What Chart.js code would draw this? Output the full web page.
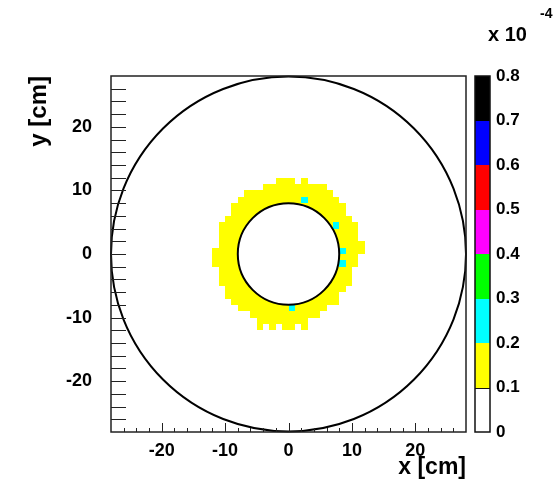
<!DOCTYPE html>
<html>
<head>
<meta charset="utf-8">
<script src="https://cdn.jsdelivr.net/npm/chart.js@4/dist/chart.umd.min.js"></script>
<style>
  html, body { margin: 0; padding: 0; background: #fff; }
</style>
</head>
<body>
<canvas id="occupancy" width="556" height="493"></canvas>
<script>
// hit density per 1x1 cm cell (units of 1e-4), stored as runs of filled cells per row
const segRow  = [11, 11, 10,  9,  8,  7,  6,   5,   4,   3,   2,   1,   0,  -1,  -2,  -3,  -4,  -5,  -6,  -7, -8, -9, -10, -11, -12, -12, -12, -12];
const segFrom = [-2,  2, -4, -7, -8, -9, -9, -10, -11, -11, -11, -11, -12, -12, -12, -11, -11, -11, -10, -10, -9, -8,  -6,  -5,  -5,  -3,  -1,   2];
const segTo   = [ 1,  3,  6,  7,  8,  9,  9,  10,  11,  11,  11,  12,  12,  11,  11,  10,  10,  10,   9,   8,  8,  6,   5,   3,  -4,  -2,   1,   3];
const ringLevel = 0.15;

// single cells with higher density next to the bore
const hotX = [2, 7, 8,  8,  0];
const hotY = [8, 4, 0, -2, -9];
const hotLevel = [0.25, 0.25, 0.25, 0.25, 0.25];

// colour levels of the palette
const levels = [0, 0.1, 0.2, 0.3, 0.4, 0.5, 0.6, 0.7, 0.8];
const levelColors = ['#ffffff', '#ffff00', '#00ffff', '#00ff00', '#ff00ff', '#ff0000', '#0000ff', '#000000'];

const xTicks = [-20, -10, 0, 10, 20];
const yTicks = [-20, -10, 0, 10, 20];
const axisMin = -28, axisMax = 28;
const boreRadius = 8;
const vesselRadius = 28;

const FONT = "'Liberation Sans', Arial, Helvetica, sans-serif";

// expand the runs into cells
const cells = [];
segRow.forEach(function (r, i) {
  for (let c = segFrom[i]; c < segTo[i]; c++) {
    cells.push({ x: c + 0.5, y: r + 0.5, v: ringLevel });
  }
});
hotX.forEach(function (c, i) {
  cells.push({ x: c + 0.5, y: hotY[i] + 0.5, v: hotLevel[i] });
});

function colorFor(v) {
  for (let i = levels.length - 2; i >= 0; i--) {
    if (v >= levels[i]) return levelColors[i];
  }
  return levelColors[0];
}

const hist2d = {
  id: 'hist2d',
  beforeDatasetsDraw: function (chart) {
    const ctx = chart.ctx, a = chart.chartArea;
    const x = chart.scales.x, y = chart.scales.y;
    ctx.save();
    ctx.beginPath();
    ctx.rect(a.left, a.top, a.right - a.left, a.bottom - a.top);
    ctx.clip();
    chart.data.datasets[0].data.forEach(function (c) {
      const x0 = Math.round(x.getPixelForValue(c.x - 0.5));
      const x1 = Math.round(x.getPixelForValue(c.x + 0.5));
      const y0 = Math.round(y.getPixelForValue(c.y + 0.5));
      const y1 = Math.round(y.getPixelForValue(c.y - 0.5));
      ctx.fillStyle = colorFor(c.v);
      ctx.fillRect(x0, y0, x1 - x0, y1 - y0);
    });
    ctx.restore();
  },
  afterDatasetsDraw: function (chart) {
    const ctx = chart.ctx, a = chart.chartArea;
    const x = chart.scales.x, y = chart.scales.y, z = chart.scales.z;
    const cx = x.getPixelForValue(0), cy = y.getPixelForValue(0);
    const pxPerCm = x.getPixelForValue(1) - cx;

    ctx.save();
    // bore (masked) and vessel outline
    ctx.beginPath();
    ctx.arc(cx, cy, boreRadius * pxPerCm, 0, Math.PI * 2);
    ctx.fillStyle = '#ffffff';
    ctx.fill();
    ctx.lineWidth = 2;
    ctx.strokeStyle = '#000';
    ctx.stroke();
    ctx.beginPath();
    ctx.arc(cx, cy, vesselRadius * pxPerCm, 0, Math.PI * 2);
    ctx.stroke();

    // frame
    ctx.lineWidth = 1.5;
    ctx.strokeStyle = '#222';
    ctx.strokeRect(a.left, a.top, a.right - a.left, a.bottom - a.top);

    // ticks every 2 cm
    ctx.lineWidth = 1;
    ctx.beginPath();
    for (let v = -26; v <= 26; v += 2) {
      const px = Math.round(x.getPixelForValue(v)) + 0.5;
      const len = v % 10 === 0 ? 9 : 4;
      ctx.moveTo(px, a.bottom);
      ctx.lineTo(px, a.bottom - len);
      const py = Math.round(y.getPixelForValue(v)) + 0.5;
      ctx.moveTo(a.left, py);
      ctx.lineTo(a.left + 15, py);
    }
    ctx.stroke();

    // colour scale
    const bx = z.left + 9, bw = 15;
    for (let i = 0; i < levelColors.length; i++) {
      const t = Math.round(z.getPixelForValue(levels[i + 1]));
      const b = Math.round(z.getPixelForValue(levels[i]));
      ctx.fillStyle = levelColors[i];
      ctx.fillRect(bx, t, bw, b - t);
    }
    ctx.lineWidth = 1.5;
    ctx.strokeStyle = '#111';
    ctx.strokeRect(bx, z.top, bw, z.bottom - z.top);
    const p1 = Math.round(z.getPixelForValue(levels[1])) + 0.5;
    ctx.lineWidth = 1;
    ctx.beginPath();
    ctx.moveTo(bx, p1);
    ctx.lineTo(bx + bw, p1);
    ctx.stroke();

    // exponent of the colour scale
    ctx.fillStyle = '#000';
    ctx.textBaseline = 'alphabetic';
    ctx.textAlign = 'left';
    ctx.font = 'bold 20px ' + FONT;
    ctx.fillText('x 10', 488, 41);
    ctx.font = 'bold 14px ' + FONT;
    ctx.fillText('-4', 540, 18);
    ctx.restore();
  }
};

const tickFont = { family: FONT, size: 18, weight: 'bold' };

new Chart(document.getElementById('occupancy'), {
  type: 'scatter',
  data: {
    datasets: [{
      label: 'occupancy',
      data: cells,
      pointRadius: 0,
      pointHoverRadius: 0,
      showLine: false
    }]
  },
  plugins: [hist2d],
  options: {
    responsive: false,
    animation: false,
    devicePixelRatio: 1,
    layout: { padding: { top: 76, left: 0, right: 0, bottom: 0 } },
    plugins: {
      legend: { display: false },
      tooltip: { enabled: false }
    },
    scales: {
      x: {
        type: 'linear',
        min: axisMin,
        max: axisMax,
        afterFit: function (s) { s.height = 61; },
        afterBuildTicks: function (s) { s.ticks = xTicks.map(function (v) { return { value: v }; }); },
        grid: { display: false, drawTicks: false },
        border: { display: false },
        ticks: { color: '#000', font: tickFont, padding: 8, autoSkip: false, maxRotation: 0 },
        title: {
          display: true, text: 'x [cm]', align: 'end', color: '#000',
          font: { family: FONT, size: 23, weight: 'bold' },
          padding: { top: 0, bottom: 12 }
        }
      },
      y: {
        type: 'linear',
        min: axisMin,
        max: axisMax,
        afterFit: function (s) { s.width = 111; },
        afterBuildTicks: function (s) { s.ticks = yTicks.map(function (v) { return { value: v }; }); },
        grid: { display: false, drawTicks: false },
        border: { display: false },
        ticks: { color: '#000', font: tickFont, padding: 19, autoSkip: false },
        title: {
          display: true, text: 'y [cm]', align: 'end', color: '#000',
          font: { family: FONT, size: 24, weight: 'bold' },
          padding: { top: 25, bottom: 0 }
        }
      },
      z: {
        type: 'linear',
        position: 'right',
        min: levels[0],
        max: levels[levels.length - 1],
        afterFit: function (s) { s.width = 90; },
        afterBuildTicks: function (s) { s.ticks = levels.map(function (v) { return { value: v }; }); },
        grid: { display: false, drawTicks: false },
        border: { display: false },
        ticks: {
          color: '#000',
          font: { family: FONT, size: 17, weight: 'bold' },
          padding: 30,
          autoSkip: false,
          callback: function (v) { return v === 0 ? '0' : v.toFixed(1); }
        }
      }
    }
  }
});
</script>
</body>
</html>
